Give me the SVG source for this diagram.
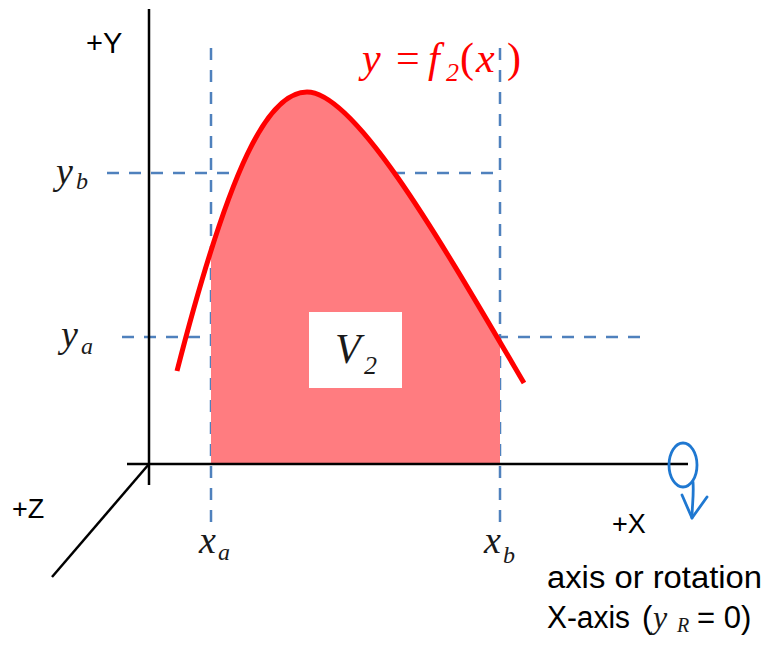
<svg xmlns="http://www.w3.org/2000/svg" width="769" height="646" viewBox="0 0 769 646">
<style>
.axis{stroke:#000;stroke-width:2.5;fill:none}
.dash{stroke:#4F81BD;stroke-width:2.5;stroke-dasharray:12 10;fill:none}
.sans{font-family:"Liberation Sans",Arial,sans-serif;fill:#000}
.math{font-family:"Liberation Serif","Times New Roman",serif;font-style:italic;fill:#1a1a1a}
.red{fill:#FF0000}
.rot{stroke:#1F78D1;stroke-width:2.8;fill:none;stroke-linecap:round;stroke-linejoin:round}
</style>
<defs>
<clipPath id="band"><rect x="211" y="0" width="289" height="464"/></clipPath>
</defs>
<rect width="769" height="646" fill="#fff"/>
<g id="formula">
<text class="math red" font-size="42" y="72"><tspan x="362">y</tspan><tspan x="396" font-style="normal">=</tspan><tspan x="428">f</tspan></text>
<text class="math red" font-size="26" font-style="normal" x="446" y="81">2</text>
<text class="math red" font-size="42" y="72"><tspan x="460" font-style="normal">(</tspan><tspan x="476">x</tspan><tspan x="507" font-style="normal">)</tspan></text>
</g>
<g id="guides">
<line class="dash" x1="211" y1="48" x2="211" y2="530"/>
<line class="dash" x1="500" y1="48" x2="500" y2="530"/>
<line class="dash" x1="107" y1="173" x2="500" y2="173"/>
<line class="dash" x1="122" y1="337" x2="650" y2="337"/>
</g>
<g id="region">
<path d="M177,371 C230,165 268,92 307,92 C355,92 440,240 524,383 L524,464 L177,464 Z" fill="#FF7C80" clip-path="url(#band)"/>
</g>
<g id="curve">
<path d="M177,371 C230,165 268,92 307,92 C355,92 440,240 524,383" stroke="#FF0000" stroke-width="5" fill="none" stroke-linecap="butt"/>
</g>
<g id="axes">
<line class="axis" x1="149" y1="9" x2="149" y2="485"/>
<line class="axis" x1="127" y1="464" x2="688" y2="464"/>
<line class="axis" x1="149" y1="464" x2="52" y2="577"/>
</g>
<g id="V2">
<rect x="309" y="312" width="93" height="76" fill="#fff"/>
<text class="math" font-size="42" x="335" y="363">V</text>
<text class="math" font-size="26" x="364" y="374">2</text>
</g>
<g id="rotation">
<ellipse class="rot" cx="683" cy="465" rx="14" ry="22"/>
<path class="rot" d="M693,482 C694,495 692,506 692,518"/>
<path class="rot" d="M682,495 L692,518 L707,497"/>
</g>
<g id="labels">
<text class="sans" font-size="29" x="86" y="53">+Y</text>
<text class="sans" font-size="27" x="12" y="518">+Z</text>
<text class="sans" font-size="27" x="612" y="533">+X</text>
<text class="math" font-size="38" x="56" y="184">y</text>
<text class="math" font-size="24" x="76" y="189">b</text>
<text class="math" font-size="38" x="61" y="347">y</text>
<text class="math" font-size="24" x="81" y="354">a</text>
<text class="math" font-size="38" x="199" y="553">x</text>
<text class="math" font-size="24" x="218" y="560">a</text>
<text class="math" font-size="38" x="484" y="553">x</text>
<text class="math" font-size="24" x="503" y="563">b</text>
<text class="sans" font-size="31" x="547" y="588" textLength="215" lengthAdjust="spacingAndGlyphs">axis or rotation</text>
<text class="sans" font-size="31" x="547" y="628" textLength="83" lengthAdjust="spacingAndGlyphs">X-axis</text>
<text class="sans" font-size="31" x="642" y="628">(</text>
<text class="math" font-size="32" x="653" y="628">y</text>
<text class="math" font-size="20" x="677" y="632">R</text>
<text class="sans" font-size="31" x="697" y="628">= 0)</text>
</g>
</svg>
